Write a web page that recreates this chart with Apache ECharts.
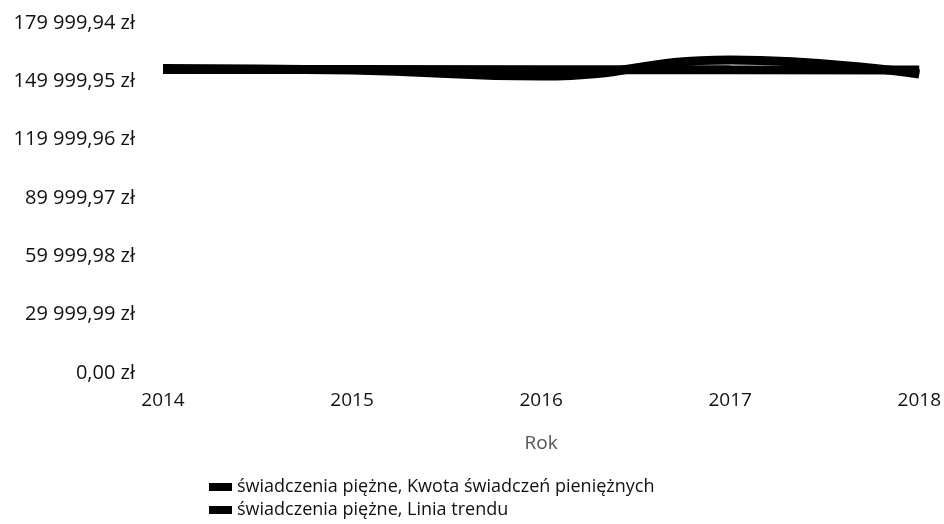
<!DOCTYPE html>
<html>
<head>
    <meta charset="utf-8">
    <title>Świadczenia pieniężne</title>
    <script src="https://cdn.jsdelivr.net/npm/echarts@6/dist/echarts.min.js"></script>
    <style>
        body { margin: 0; background: #fff; }
        #main { width: 944px; height: 524px; }
    </style>
</head>
<body>
    <div id="main"></div>
    <script type="text/javascript">
        // dane
        var years = ['2014', '2015', '2016', '2017', '2018'];
        var kwota = [156600, 155800, 152700, 161000, 153800];
        var trend = [156100, 156050, 156000, 155930, 155880];
        var seriesNames = ['świadczenia piężne, Kwota świadczeń pieniężnych', 'świadczenia piężne, Linia trendu'];

        function fmtZl(v) {
            var parts = v.toFixed(2).split('.');
            var intPart = parts[0].replace(/\B(?=(\d{3})+(?!\d))/g, ' ');
            return intPart + ',' + parts[1] + ' zł';
        }

        var myChart = echarts.init(document.getElementById('main'));

        var option = {
            animation: false,
            textStyle: { fontFamily: 'Open Sans' },
            grid: { left: 163, right: 24, top: 23, bottom: 151 },
            legend: {
                data: seriesNames,
                orient: 'vertical',
                left: 209,
                top: 478,
                height: 46,
                padding: 0,
                itemWidth: 23,
                itemHeight: 8,
                itemGap: 5,
                icon: 'rect',
                textStyle: { fontSize: 18, color: '#111', fontFamily: 'Open Sans' }
            },
            xAxis: {
                type: 'category',
                boundaryGap: false,
                data: years,
                name: 'Rok',
                nameLocation: 'middle',
                nameGap: 61,
                nameTextStyle: { fontSize: 19, color: '#555' },
                axisLine: { show: false },
                axisTick: { show: false },
                axisLabel: { margin: 18, fontSize: 19, color: '#111' }
            },
            yAxis: {
                type: 'value',
                min: 0,
                max: 179999.94,
                interval: 29999.99,
                axisLine: { show: false },
                axisTick: { show: false },
                splitLine: { show: false },
                axisLabel: {
                    margin: 28,
                    fontSize: 20,
                    color: '#111',
                    formatter: fmtZl
                }
            },
            series: [{
                name: seriesNames[0],
                type: 'line',
                smooth: true,
                showSymbol: false,
                data: kwota,
                itemStyle: { color: '#000' },
                lineStyle: { color: '#000', width: 9 }
            }, {
                name: seriesNames[1],
                type: 'line',
                showSymbol: false,
                data: trend,
                itemStyle: { color: '#000' },
                lineStyle: { color: '#000', width: 9 }
            }]
        };

        myChart.setOption(option);
    </script>
</body>
</html>
